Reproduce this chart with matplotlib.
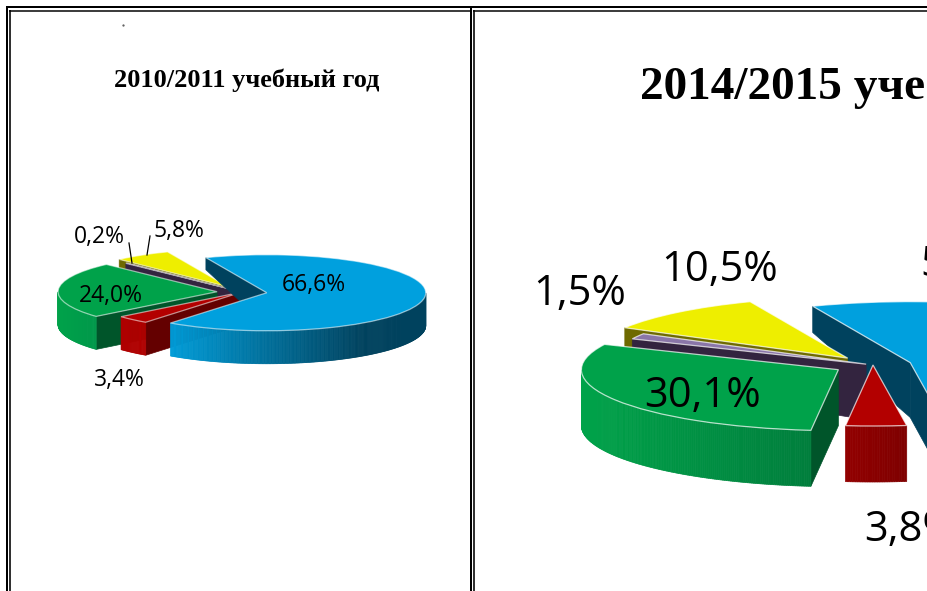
import numpy as np
import matplotlib
matplotlib.use("Agg")
import matplotlib.pyplot as plt
from matplotlib.patches import Polygon
from matplotlib.colors import to_rgb

# ---- data ----
segments = ["blue", "red", "green", "purple", "yellow"]
values_2010 = [66.6, 3.4, 24.0, 0.2, 5.8]
values_2014 = [54.1, 3.8, 30.1, 1.5, 10.5]
labels_2010 = ["66,6%", "3,4%", "24,0%", "0,2%", "5,8%"]
labels_2014 = ["54,1%", "3,8%", "30,1%", "1,5%", "10,5%"]
title_2010 = "2010/2011 учебный год"
title_2014 = "2014/2015 учебный год"

# ---- styles / layout ----
W, H = 928, 591
TOP = ["#00A0DE", "#B30000", "#00A24A", "#8A76A8", "#EEEE00"]
FACE = ["#00425E", "#640000", "#00552A", "#33243F", "#6E6A00"]
SIDE = {
    "left": [("#009CD8", "#00425E", 0.75), ("#B00000", "#B00000", 1), ("#00A24A", "#00984A", 1),
             ("#33243F", "#33243F", 1), ("#6E6A00", "#6E6A00", 1)],
    "right": [("#00425E", "#00425E", 1), ("#920000", "#7E0000", 1), ("#00A34A", "#007E3C", 1),
              ("#33243F", "#33243F", 1), ("#6E6A00", "#6E6A00", 1)],
}

plt.rcParams["font.family"] = ["Open Sans", "DejaVu Sans"]
fig = plt.figure(figsize=(W / 100, H / 100), dpi=100)
bg = fig.add_axes([0, 0, 1, 1])
bg.set_xlim(0, W)
bg.set_ylim(H, 0)
bg.axis("off")

# double frame rules
PX = 0.72
for x, y0 in [(7, 6), (471, 7)]:
    bg.plot([x, x], [y0, H], color="black", lw=2 * PX, solid_capstyle="butt")
for x in (10.2, 474):
    bg.plot([x, x], [10, H], color="black", lw=1.6 * PX, solid_capstyle="butt")
bg.plot([6, W], [7, 7], color="black", lw=2 * PX, solid_capstyle="butt")
bg.plot([9.5, 470], [10.7, 10.7], color="black", lw=1.5 * PX, solid_capstyle="butt")
bg.plot([473, W], [10.7, 10.7], color="black", lw=1.5 * PX, solid_capstyle="butt")
bg.plot([123.5], [25], marker=".", ms=1.2, color="#555555")


def draw_pie(values, explode, start, cx, cy, rx, ry, depth, persp, order, side, edge_alpha):
    ax = fig.add_axes([0, 0, 1, 1])
    ax.patch.set_alpha(0)
    wedges, _ = ax.pie(values, explode=explode, colors=TOP, startangle=start,
                       counterclock=False, radius=1,
                       wedgeprops=dict(edgecolor=(1, 1, 1, edge_alpha), linewidth=0.9))
    ax.set_aspect("auto")
    ax.set_xlim(-cx / rx, (W - cx) / rx)
    ax.set_ylim((cy - H) / ry, cy / ry)
    ax.axis("off")
    d_unit = depth / ry

    def drop(y):
        return d_unit * (1 - persp * max(y, 0.0))

    def quad(x0, y0, x1, y1, color, z):
        p = Polygon([(x0, y0), (x1, y1), (x1, y1 - drop(y1)), (x0, y0 - drop(y0))],
                    closed=True, facecolor=color, edgecolor=color, lw=0.5, zorder=z)
        ax.add_patch(p)

    for rank, idx in enumerate(order):
        w = wedges[idx]
        z = 10 + 2 * rank
        w.set_zorder(z + 1)
        (wx, wy), th1, th2 = w.center, w.theta1, w.theta2
        # visible cut faces
        if np.cos(np.radians(th1)) > 0:
            quad(wx, wy, wx + np.cos(np.radians(th1)), wy + np.sin(np.radians(th1)), FACE[idx], z)
        if np.cos(np.radians(th2)) < 0:
            quad(wx, wy, wx + np.cos(np.radians(th2)), wy + np.sin(np.radians(th2)), FACE[idx], z)
        # outer rim with a gradient
        th = np.linspace(th1, th2, max(int(abs(th2 - th1)) * 2, 3))
        rad = np.radians(th)
        vis = np.sin(rad) < 0
        if vis.sum() >= 2:
            xs = wx + np.cos(rad)
            ys = wy + np.sin(rad)
            lo, hi = xs[vis].min(), xs[vis].max()
            c0, c1, end = side[idx]
            c0, c1 = np.array(to_rgb(c0)), np.array(to_rgb(c1))
            for i in range(len(th) - 1):
                if vis[i] and vis[i + 1]:
                    t = min(1.0, ((xs[i] - lo) / max(hi - lo, 1e-6)) / end)
                    quad(xs[i], ys[i], xs[i + 1], ys[i + 1], tuple(c0 + (c1 - c0) * t), z)
    return ax


# left chart
draw_pie(values_2010, [0.157, 0.0, 0.157, 0.05, 0.157], 112.5, 242, 292, 159, 38, 33, 0.7,
         [4, 3, 2, 1, 0], SIDE["left"], 0.55)
# right chart
draw_pie(values_2014, [0.15, 0.0, 0.155, 0.03, 0.15], 112.3, 873, 365, 257, 61, 56, 0.55,
         [0, 4, 3, 2, 1], SIDE["right"], 0.7)

# text layer on top
tx = fig.add_axes([0, 0, 1, 1])
tx.set_xlim(0, W)
tx.set_ylim(H, 0)
tx.axis("off")
tx.patch.set_alpha(0)

small = 16.5
big = 30
for s, (x, y) in zip(labels_2010, [(314, 285), (119, 380), (111, 296), (99, 237.5), (179, 230.5)]):
    tx.text(x, y, s, fontsize=small, ha="center", va="center", color="black")
for s, (x, y) in zip(labels_2014, [(920, 265), (864, 530), (703, 396), (580, 293.5), (720, 269.5)]):
    if s in (labels_2014[0], labels_2014[1]):
        tx.text(x, y, s, fontsize=big, ha="left", va="center", color="black", clip_on=True)
    else:
        tx.text(x, y, s, fontsize=big, ha="center", va="center", color="black")
tx.plot([129, 132], [243, 263], color="black", lw=0.9)
tx.plot([150, 147], [236, 255], color="black", lw=0.9)

tx.text(247, 80, title_2010, family="Liberation Serif", weight="bold", fontsize=19,
        ha="center", va="center", color="black")
tx.text(640, 87, title_2014, family="Liberation Serif", weight="bold", fontsize=34,
        ha="left", va="center", color="black", clip_on=True)

fig.savefig("out.png", dpi=100)
